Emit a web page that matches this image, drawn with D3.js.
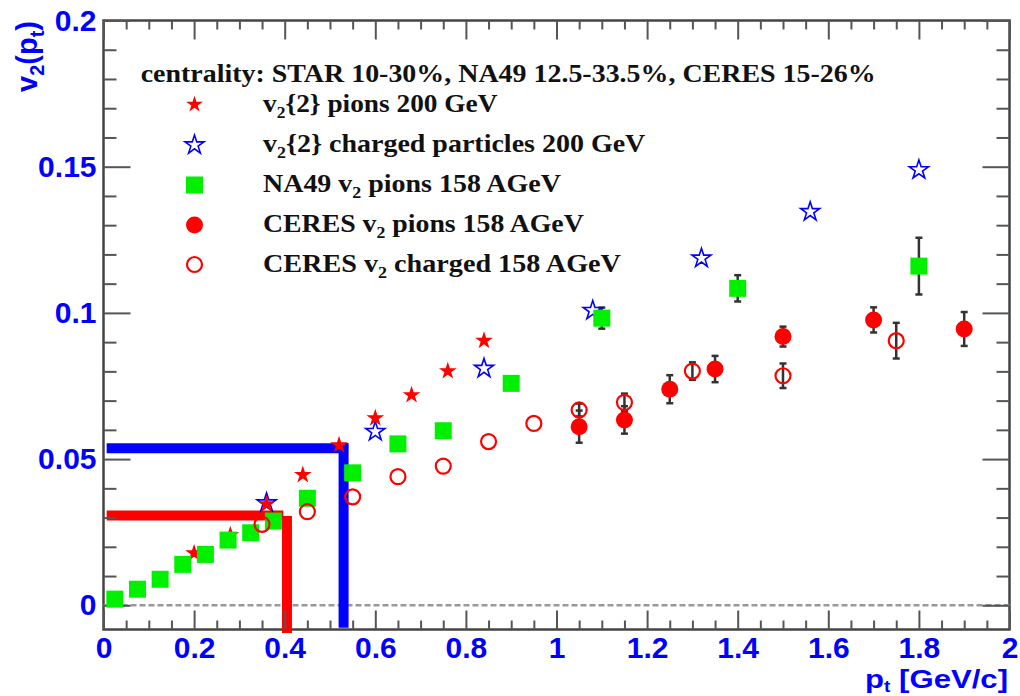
<!DOCTYPE html>
<html><head><meta charset="utf-8">
<script src="https://cdn.jsdelivr.net/npm/d3@7"></script>
<style>body{margin:0;background:#fff} svg{display:block}</style>
</head><body>
<svg id="c" width="1020" height="696"></svg>
<script>
// ---------- data ----------
const starPionsPt = [0.20, 0.28, 0.36, 0.44, 0.52, 0.60, 0.68, 0.76, 0.84];
const starPionsV2 = [0.0178, 0.0240, 0.0346, 0.0446, 0.0548, 0.0640, 0.0719, 0.0801, 0.0905];

const starChargedPt = [0.36, 0.60, 0.84, 1.08, 1.32, 1.56, 1.80];
const starChargedV2 = [0.0350, 0.0594, 0.0810, 0.1008, 0.1187, 0.1346, 0.1489];

const na49Pt  = [0.025, 0.075, 0.125, 0.175, 0.225, 0.275, 0.325, 0.375, 0.45, 0.55, 0.65, 0.75, 0.90, 1.10, 1.40, 1.80];
const na49V2  = [0.0021, 0.0055, 0.0089, 0.0140, 0.0174, 0.0223, 0.0248, 0.0288, 0.0366, 0.0453, 0.0552, 0.0597, 0.0759, 0.0982, 0.1084, 0.1160];
const na49Err = [0, 0, 0, 0, 0, 0, 0, 0, 0, 0, 0, 0, 0, 0.0036, 0.0045, 0.0097];

const ceresPionsPt  = [1.05, 1.15, 1.25, 1.35, 1.50, 1.70, 1.90];
const ceresPionsV2  = [0.0611, 0.0634, 0.0739, 0.0808, 0.0919, 0.0976, 0.0945];
const ceresPionsErr = [0.0055, 0.0047, 0.0048, 0.0045, 0.0034, 0.0043, 0.0058];

const ceresChPt  = [0.35, 0.45, 0.55, 0.65, 0.75, 0.85, 0.95, 1.05, 1.15, 1.30, 1.50, 1.75];
const ceresChV2  = [0.0277, 0.0320, 0.0371, 0.0440, 0.0476, 0.0560, 0.0622, 0.0668, 0.0694, 0.0801, 0.0785, 0.0905];
const ceresChErr = [0, 0, 0, 0, 0, 0, 0, 0.0022, 0.0030, 0.0030, 0.0042, 0.0061];

// annotation lines (data units): [x1, y1, x2, y2]
const redHLine  = [0.007, 0.0307, 0.397, 0.0307];
const redVLine  = [0.405, 0.0305, 0.405, -0.0095];
const blueHLine = [0.007, 0.0537, 0.540, 0.0537];
const blueVLine = [0.530, 0.0554, 0.530, -0.0077];

const xTickLabels = ["0", "0.2", "0.4", "0.6", "0.8", "1", "1.2", "1.4", "1.6", "1.8", "2"];
const yTickLabels = ["0", "0.05", "0.1", "0.15", "0.2"];

const legendHeader = "centrality: STAR 10-30%, NA49 12.5-33.5%, CERES 15-26%";

// ---------- layout ----------
const L = 103.5, R = 1009.5, T = 20.5, B = 629.5;
const x = d3.scaleLinear().domain([0, 2]).range([L, R]);
const y = d3.scaleLinear().domain([-0.00828, 0.2]).range([B, T]);

const svg = d3.select("#c");
const sans = "'Liberation Sans', Arial, Helvetica, sans-serif";
const serif = "'Liberation Serif', 'Times New Roman', serif";
const BLUE = "#0000ff", RED = "#ff0000", GREEN = "#00f000";

// frame
svg.append("rect").attr("x", L).attr("y", T).attr("width", R - L).attr("height", B - T)
  .attr("fill", "none").attr("stroke", "#444").attr("stroke-width", 2.5);

// zero dashed line
svg.append("line").attr("x1", L).attr("x2", R).attr("y1", y(0)).attr("y2", y(0))
  .attr("stroke", "#999").attr("stroke-width", 2.5).attr("stroke-dasharray", "6,3");

// annotation lines
function aline(c, col) {
  svg.append("line").attr("x1", x(c[0])).attr("y1", y(c[1])).attr("x2", x(c[2])).attr("y2", y(c[3]))
    .attr("stroke", col).attr("stroke-width", 10);
}
aline(redHLine, RED); aline(redVLine, RED); aline(blueHLine, BLUE); aline(blueVLine, BLUE);

// axes
const xMajor = d3.range(0, 11).map(i => i * 0.2);
const xMinor = d3.range(0, 41).map(i => i * 0.05).filter((v, i) => i % 4 !== 0);
const yMajor = d3.range(0, 5).map(i => i * 0.05);
const yMinor = d3.range(0, 21).map(i => i * 0.01).filter((v, i) => i % 5 !== 0);

function styleAxis(g) {
  g.select(".domain").remove();
  g.selectAll(".tick line").attr("stroke", "#555").attr("stroke-width", 2);
  g.selectAll("text").attr("fill", BLUE).attr("font-family", sans).attr("font-weight", "bold").attr("font-size", 30);
}
svg.append("g").attr("transform", `translate(0,${B})`)
  .call(d3.axisBottom(x).tickValues(xMajor).tickSize(-19).tickPadding(7).tickFormat((d, i) => xTickLabels[i]))
  .call(styleAxis);
svg.append("g").attr("transform", `translate(0,${B})`)
  .call(d3.axisBottom(x).tickValues(xMinor).tickSize(-9).tickFormat("")).call(styleAxis);
svg.append("g").attr("transform", `translate(0,${T})`)
  .call(d3.axisTop(x).tickValues(xMajor).tickSize(-19).tickFormat("")).call(styleAxis);
svg.append("g").attr("transform", `translate(0,${T})`)
  .call(d3.axisTop(x).tickValues(xMinor).tickSize(-9).tickFormat("")).call(styleAxis);

svg.append("g").attr("transform", `translate(${L},0)`)
  .call(d3.axisLeft(y).tickValues(yMajor).tickSize(-27).tickPadding(7).tickFormat((d, i) => yTickLabels[i]))
  .call(styleAxis);
svg.append("g").attr("transform", `translate(${L},0)`)
  .call(d3.axisLeft(y).tickValues(yMinor).tickSize(-13).tickFormat("")).call(styleAxis);
svg.append("g").attr("transform", `translate(${R},0)`)
  .call(d3.axisRight(y).tickValues(yMajor).tickSize(-27).tickFormat("")).call(styleAxis);
svg.append("g").attr("transform", `translate(${R},0)`)
  .call(d3.axisRight(y).tickValues(yMinor).tickSize(-13).tickFormat("")).call(styleAxis);

// axis titles
const yt = svg.append("text").attr("transform", "translate(37,21) rotate(-90)")
  .attr("text-anchor", "end").attr("fill", BLUE).attr("font-family", sans)
  .attr("font-weight", "bold").attr("font-size", 29);
yt.append("tspan").text("v");
yt.append("tspan").attr("font-size", 20).attr("dy", 7).text("2");
yt.append("tspan").attr("dy", -7).text("(p");
yt.append("tspan").attr("font-size", 20).attr("dy", 7).text("t");
yt.append("tspan").attr("dy", -7).text(")");

const xtg = svg.append("g");
const xt = xtg.append("text").attr("x", 0).attr("y", 0)
  .attr("text-anchor", "end").attr("fill", BLUE).attr("font-family", sans)
  .attr("font-weight", "bold").attr("font-size", 26);
xt.append("tspan").text("p");
xt.append("tspan").attr("font-size", 16).attr("dy", 4).text("t");
xt.append("tspan").attr("dy", -4).text(" [GeV/c]");
{
  const w = xt.node().getBBox().width;
  xtg.attr("transform", `translate(1008,688) scale(${143 / w},1)`);
}

// ---------- markers ----------
const starPath = r => d3.symbol().type(d3.symbolStar).size(r * r / 0.8908130915292852)();

function errBars(pts, vals, errs) {
  const g = svg.append("g").attr("stroke", "#333").attr("stroke-width", 2.5);
  pts.forEach((p, i) => {
    if (!errs[i]) return;
    const cx = x(p), y1 = y(vals[i] - errs[i]), y2 = y(vals[i] + errs[i]);
    g.append("line").attr("x1", cx).attr("x2", cx).attr("y1", y1).attr("y2", y2);
    g.append("line").attr("x1", cx - 3.5).attr("x2", cx + 3.5).attr("y1", y1).attr("y2", y1);
    g.append("line").attr("x1", cx - 3.5).attr("x2", cx + 3.5).attr("y1", y2).attr("y2", y2);
  });
}
errBars(na49Pt, na49V2, na49Err);
errBars(ceresPionsPt, ceresPionsV2, ceresPionsErr);
errBars(ceresChPt, ceresChV2, ceresChErr);

// blue open stars
svg.append("g").selectAll("path").data(starChargedPt).join("path")
  .attr("d", starPath(10))
  .attr("transform", (d, i) => `translate(${x(d)},${y(starChargedV2[i])})`)
  .attr("fill", "none").attr("stroke", BLUE).attr("stroke-width", 1.6).attr("stroke-linejoin", "miter");
// red filled stars
svg.append("g").selectAll("path").data(starPionsPt).join("path")
  .attr("d", starPath(9.3))
  .attr("transform", (d, i) => `translate(${x(d)},${y(starPionsV2[i])})`)
  .attr("fill", RED);
// green squares
svg.append("g").selectAll("rect").data(na49Pt).join("rect")
  .attr("x", d => x(d) - 8.5).attr("y", (d, i) => y(na49V2[i]) - 8.5)
  .attr("width", 17).attr("height", 17).attr("fill", GREEN);
// open circles
svg.append("g").selectAll("circle").data(ceresChPt).join("circle")
  .attr("cx", d => x(d)).attr("cy", (d, i) => y(ceresChV2[i])).attr("r", 7.5)
  .attr("fill", "none").attr("stroke", RED).attr("stroke-width", 2.2);
// filled circles
svg.append("g").selectAll("circle").data(ceresPionsPt).join("circle")
  .attr("cx", d => x(d)).attr("cy", (d, i) => y(ceresPionsV2[i])).attr("r", 8.5)
  .attr("fill", RED);

// ---------- legend ----------
function fitText(x0, x1, base, build) {
  const g = svg.append("g");
  const t = g.append("text").attr("x", 0).attr("y", 0).attr("fill", "#111")
    .attr("font-family", serif).attr("font-weight", "bold").attr("font-size", 25);
  build(t);
  const w = t.node().getBBox().width;
  g.attr("transform", `translate(${x0},${base}) scale(${(x1 - x0) / w},1)`);
}
function sub(t, s) { t.append("tspan").attr("font-size", 16).attr("dy", 6).text(s); }
function norm(t, s, back) { t.append("tspan").attr("dy", back ? -6 : 0).text(s); }

fitText(140.7, 876, 82, t => norm(t, legendHeader));

const legX = 194.5;
const rowY = [104.5, 145, 185, 225, 264.5];
const rowBase = [112, 152, 192, 232, 272];
const rowEnd = [497.5, 645.5, 561, 584, 621];
const rowStart = 263;

svg.append("path").attr("d", starPath(8.8)).attr("transform", `translate(${legX},${rowY[0]})`).attr("fill", RED);
svg.append("path").attr("d", starPath(10)).attr("transform", `translate(${legX},${rowY[1]})`)
  .attr("fill", "none").attr("stroke", BLUE).attr("stroke-width", 1.6);
svg.append("rect").attr("x", legX - 8.5).attr("y", rowY[2] - 8.5).attr("width", 17).attr("height", 17).attr("fill", GREEN);
svg.append("circle").attr("cx", legX).attr("cy", rowY[3]).attr("r", 8.5).attr("fill", RED);
svg.append("circle").attr("cx", legX).attr("cy", rowY[4]).attr("r", 7.5).attr("fill", "none").attr("stroke", RED).attr("stroke-width", 2.2);

fitText(rowStart, rowEnd[0], rowBase[0], t => { norm(t, "v"); sub(t, "2"); norm(t, "{2} pions 200 GeV", true); });
fitText(rowStart, rowEnd[1], rowBase[1], t => { norm(t, "v"); sub(t, "2"); norm(t, "{2} charged particles 200 GeV", true); });
fitText(rowStart, rowEnd[2], rowBase[2], t => { norm(t, "NA49 v"); sub(t, "2"); norm(t, " pions 158 AGeV", true); });
fitText(rowStart, rowEnd[3], rowBase[3], t => { norm(t, "CERES v"); sub(t, "2"); norm(t, " pions 158 AGeV", true); });
fitText(rowStart, rowEnd[4], rowBase[4], t => { norm(t, "CERES v"); sub(t, "2"); norm(t, " charged 158 AGeV", true); });
</script>
</body></html>
